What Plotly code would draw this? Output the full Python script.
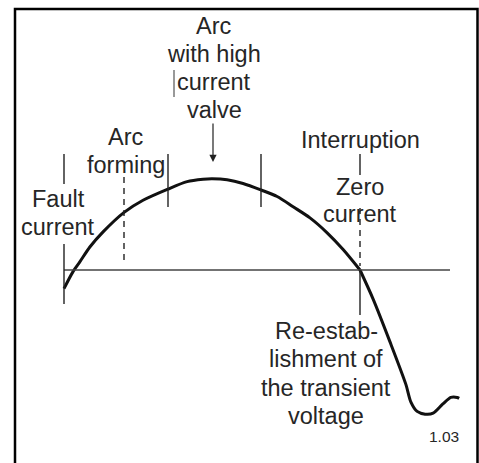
import plotly.graph_objects as go

# Schematic curve: current through the arc (first part), then transient voltage (arbitrary units)
t_arc = [0.0, 0.30, 0.54, 0.88, 1.32, 2.03, 2.67, 3.51, 4.16, 4.70, 5.0, 5.51, 6.05,
         6.66, 7.20, 7.74, 8.31, 8.89, 9.43, 10.0]
amp_arc = [-0.20, -0.02, 0.09, 0.25, 0.41, 0.62, 0.75, 0.87, 0.95, 0.975, 0.98, 0.97, 0.93,
           0.86, 0.79, 0.68, 0.56, 0.40, 0.22, 0.0]
t_volt = [10.0, 10.44, 11.01, 11.55, 11.72, 11.93, 12.20, 12.47, 12.80, 13.07, 13.28, 13.35]
amp_volt = [0.0, -0.31, -0.77, -1.23, -1.42, -1.52, -1.55, -1.54, -1.44, -1.37, -1.37, -1.38]

W, H = 479, 463

# pixel helpers (layout only)
def dx(px):
    return (px - 64) / 29.6

def dy(py):
    return (270 - py) / 93

TXT = "#262626"
FONT = "Liberation Sans, Arial, Helvetica, sans-serif"

fig = go.Figure()
for xs, ys in ((t_arc, amp_arc), (t_volt, amp_volt)):
    fig.add_trace(go.Scatter(x=xs, y=ys, mode="lines",
                             line=dict(color="#111", width=3, shape="spline", smoothing=0.8),
                             hoverinfo="skip", showlegend=False))

shapes = []
def vline(px, py0, py1, dash="solid", w=1.4, color="#222"):
    shapes.append(dict(type="line", x0=dx(px), x1=dx(px), y0=dy(py0), y1=dy(py1), xref="x", yref="y",
                       line=dict(color=color, width=w, dash=dash)))

# baseline
shapes.append(dict(type="line", x0=dx(64), x1=dx(450), y0=0, y1=0, xref="x", yref="y",
                   line=dict(color="#444", width=1.5)))
vline(64, 154, 184)
vline(64, 244, 304)
vline(124, 177, 264, dash="6px,5px")
vline(168, 154, 207)
vline(261, 154, 207)
vline(360, 154, 175)
vline(360, 208, 266, dash="6px,5px")
vline(360, 270, 315)
vline(174, 70, 97, color="#555", w=1.2)
# frame
shapes.append(dict(type="rect", xref="x", yref="y", x0=dx(15), x1=dx(477.5), y0=dy(480), y1=dy(9),
                   line=dict(color="#000", width=2.5)))

annots = []
def label(lines, px, pys, size=23.5):
    for txt, py in zip(lines, pys):
        annots.append(dict(text=txt, x=dx(px), y=dy(py), xref="x", yref="y", showarrow=False,
                           xanchor="center", yanchor="middle", align="center",
                           font=dict(family=FONT, size=size, color=TXT)))

label(["Arc", "with high", "current", "valve"], 214, [26, 54, 82, 110])
label(["Arc", "forming"], 126, [137, 165])
label(["Fault", "current"], 58, [199, 227])
label(["Interruption"], 360, [140])
label(["Zero", "current"], 360, [187, 214])
label(["Re-estab-", "lishment of", "the transient", "voltage"], 326, [331, 359, 388, 416])
label(["1.03"], 444, [436], size=15.5)

annots.append(dict(x=dx(213), y=dy(162), ax=dx(213), ay=dy(122), xref="x", yref="y", axref="x", ayref="y",
                   text="", showarrow=True, arrowhead=2, arrowsize=1.2, arrowwidth=1.2, arrowcolor="#222"))

fig.update_layout(
    width=W, height=H, margin=dict(l=0, r=0, t=0, b=0),
    paper_bgcolor="white", plot_bgcolor="white",
    xaxis=dict(range=[dx(0), dx(W)], visible=False, fixedrange=True),
    yaxis=dict(range=[dy(H), dy(0)], visible=False, fixedrange=True),
    shapes=shapes, annotations=annots, showlegend=False,
)
fig.write_html("out.html", config={"displayModeBar": False},
               post_script="document.body.style.margin='0';document.body.style.overflow='hidden';")
